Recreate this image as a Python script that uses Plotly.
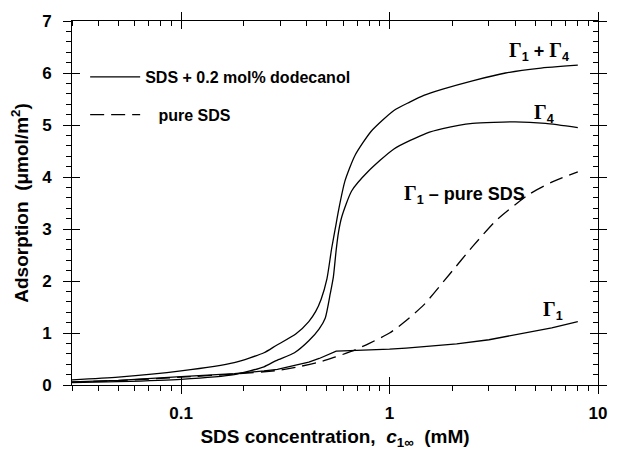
import numpy as np
import plotly.graph_objects as go

# ---- data ----
x_total = [0.03, 0.05, 0.1, 0.18, 0.25, 0.286, 0.355, 0.41, 0.442, 0.47, 0.501, 0.528, 0.55, 0.569, 0.611, 0.682, 0.817, 1.05, 1.25, 1.46, 1.8, 2.5, 3.6, 5.2, 8.0]
y_total = [0.10, 0.15, 0.27, 0.43, 0.62, 0.76, 0.98, 1.22, 1.41, 1.65, 2.04, 2.63, 3.02, 3.35, 3.92, 4.41, 4.88, 5.28, 5.44, 5.57, 5.69, 5.85, 6.0, 6.09, 6.15]

x_g4 = [0.03, 0.05, 0.1, 0.18, 0.25, 0.286, 0.35, 0.41, 0.46, 0.492, 0.52, 0.538, 0.555, 0.57, 0.59, 0.658, 0.787, 1.05, 1.5, 1.8, 2.5, 4.0, 5.6, 8.0]
y_g4 = [0.045, 0.065, 0.11, 0.20, 0.35, 0.47, 0.62, 0.85, 1.08, 1.29, 1.76, 2.08, 2.6, 2.95, 3.23, 3.73, 4.10, 4.54, 4.84, 4.93, 5.03, 5.06, 5.03, 4.95]

x_g1 = [0.03, 0.05, 0.1, 0.18, 0.25, 0.29, 0.355, 0.41, 0.46, 0.50, 0.53, 0.555, 0.6, 0.8, 1.0, 1.2, 1.6, 2.1, 3.0, 4.3, 6.0, 8.0]
y_g1 = [0.06, 0.09, 0.16, 0.22, 0.27, 0.30, 0.38, 0.44, 0.51, 0.57, 0.62, 0.65, 0.655, 0.67, 0.69, 0.71, 0.75, 0.79, 0.87, 0.99, 1.10, 1.22]

x_pure = [0.03, 0.05, 0.1, 0.18, 0.29, 0.355, 0.46, 0.55, 0.66, 0.8, 1.0, 1.17, 1.46, 1.95, 2.5, 3.24, 4.64, 6.0, 8.0]
y_pure = [0.055, 0.085, 0.15, 0.21, 0.28, 0.34, 0.44, 0.54, 0.65, 0.8, 1.0, 1.2, 1.54, 2.14, 2.66, 3.16, 3.66, 3.90, 4.10]

legend_names = ["SDS + 0.2 mol% dodecanol", "\u00a0\u00a0\u00a0pure SDS"]

y_ticks = [0, 1, 2, 3, 4, 5, 6, 7]
x_ticks = [0.1, 1, 10]
x_ticktext = ["0.1", "1", "10"]
x_minor = [0.03, 0.04, 0.05, 0.06, 0.07, 0.08, 0.09, 0.2, 0.3, 0.4, 0.5, 0.6, 0.7, 0.8, 0.9,
           2, 3, 4, 5, 6, 7, 8, 9]

G = "<span style='font-family:Liberation Serif;font-size:20px'>Γ</span>"
labels = [
    (G + "<sub>1</sub> + " + G + "<sub>4</sub>", 5.2, 6.42),
    (G + "<sub>4</sub>", 5.48, 5.23),
    (G + "<sub>1</sub> – pure SDS", 2.30, 3.66),
    (G + "<sub>1</sub>", 6.05, 1.44),
]

LW = 1.3
SM = 0.6
fig = go.Figure()
fig.add_trace(go.Scatter(x=x_total, y=y_total, mode="lines", name=legend_names[0],
                         line=dict(color="black", width=LW, shape="spline", smoothing=SM),
                         legendgroup="a"))
fig.add_trace(go.Scatter(x=x_g4, y=y_g4, mode="lines", showlegend=False,
                         line=dict(color="black", width=LW, shape="spline", smoothing=SM)))
fig.add_trace(go.Scatter(x=x_g1, y=y_g1, mode="lines", showlegend=False,
                         line=dict(color="black", width=LW)))
fig.add_trace(go.Scatter(x=x_pure, y=y_pure, mode="lines", name=legend_names[1],
                         line=dict(color="black", width=LW, dash="14px,7px", shape="spline", smoothing=SM),
                         legendgroup="b"))
# overlay axes used only for the tick styling (crossing major ticks, mirrored minor ticks)
fig.add_trace(go.Scatter(x=[], y=[], xaxis="x2", yaxis="y2", showlegend=False, hoverinfo="skip"))
fig.add_trace(go.Scatter(x=[], y=[], xaxis="x3", yaxis="y3", showlegend=False, hoverinfo="skip"))

xr = [np.log10(0.03), 1]
yr = [0, 7]
tickfont = dict(family="Liberation Sans", size=17, color="black", weight="bold")
blank = dict(showticklabels=False, showline=False, showgrid=False, zeroline=False,
             tickwidth=1, tickcolor="black")

fig.update_layout(
    width=619, height=456,
    margin=dict(l=72, r=12, t=19, b=64),
    paper_bgcolor="white", plot_bgcolor="white",
    font=dict(family="Liberation Sans", color="black", size=16, weight="bold"),
    xaxis=dict(type="log", range=xr, tickmode="array", tickvals=x_ticks, ticktext=x_ticktext,
               ticks="outside", ticklen=8, tickwidth=1, tickcolor="black",
               showline=True, linecolor="black", linewidth=1, mirror=True,
               showgrid=False, zeroline=False, tickfont=tickfont, ticklabelstandoff=5,
               minor=dict(tickmode="array", tickvals=x_minor, ticks="outside", ticklen=5,
                          tickwidth=1, tickcolor="black", showgrid=False),
               title=dict(text="SDS concentration,  <i>c</i><sub>1∞</sub>  (mM)",
                          font=dict(size=19, weight="bold"), standoff=7)),
    yaxis=dict(range=yr, tickmode="array", tickvals=y_ticks,
               ticks="outside", ticklen=8, tickwidth=1, tickcolor="black",
               showline=True, linecolor="black", linewidth=1, mirror=True,
               showgrid=False, zeroline=False, tickfont=tickfont, ticklabelstandoff=8,
               minor=dict(dtick=0.2, ticks="outside", ticklen=5, tickwidth=1,
                          tickcolor="black", showgrid=False),
               title=dict(text="Adsorption  (μmol/m<sup>2</sup>)",
                          font=dict(size=19, weight="bold"), standoff=8)),
    xaxis2=dict(type="log", range=xr, overlaying="x", anchor="y2", tickmode="array",
                tickvals=x_ticks, ticks="inside", ticklen=8, mirror="ticks", **blank),
    yaxis2=dict(range=yr, overlaying="y", anchor="x2", tickmode="array", tickvals=y_ticks,
                ticks="inside", ticklen=8, mirror="ticks", **blank),
    xaxis3=dict(type="log", range=xr, overlaying="x", anchor="y3", side="top", tickmode="array",
                tickvals=x_ticks, ticks="outside", ticklen=8,
                minor=dict(tickmode="array", tickvals=x_minor, ticks="inside", ticklen=5,
                           tickwidth=1, tickcolor="black", showgrid=False), **blank),
    yaxis3=dict(range=yr, overlaying="y", anchor="x3", side="right", tickmode="array",
                tickvals=y_ticks, ticks="outside", ticklen=8,
                minor=dict(dtick=0.2, ticks="inside", ticklen=5, tickwidth=1,
                           tickcolor="black", showgrid=False), **blank),
    legend=dict(x=0.025, y=0.893, xanchor="left", yanchor="top", bgcolor="rgba(0,0,0,0)",
                font=dict(size=16, weight="bold"), tracegroupgap=14, itemwidth=50,
                traceorder="grouped"),
    showlegend=True,
)

for txt, xv, yv in labels:
    fig.add_annotation(x=np.log10(xv), y=yv, text=txt, showarrow=False,
                       font=dict(size=18, color="black", weight="bold"))

fig.write_html("out.html")
